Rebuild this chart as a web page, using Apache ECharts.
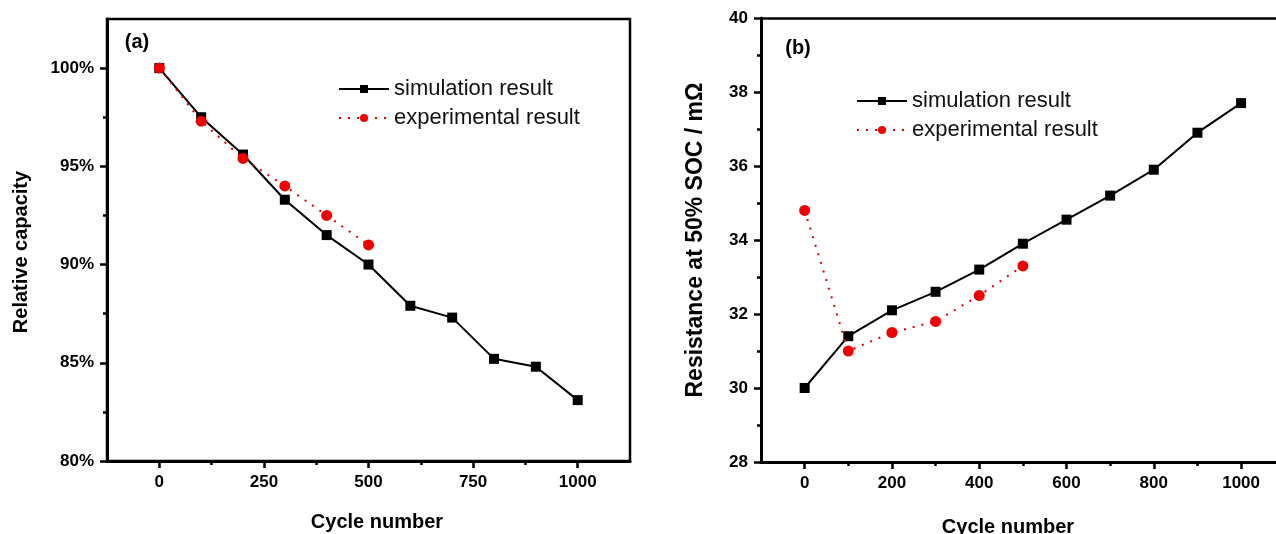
<!DOCTYPE html>
<html>
<head>
<meta charset="utf-8">
<script src="https://cdn.jsdelivr.net/npm/echarts@6/dist/echarts.min.js"></script>
<style>
html,body{margin:0;padding:0;background:#fff;}
#chart{width:1276px;height:534px;}
</style>
</head>
<body>
<div id="chart"></div>
<script>
// ---- data ----
const cycles = [0, 100, 200, 300, 400, 500, 600, 700, 800, 900, 1000];
const expCycles = [0, 100, 200, 300, 400, 500];
const capSim = [100, 97.5, 95.6, 93.3, 91.5, 90.0, 87.9, 87.3, 85.2, 84.8, 83.1];
const capExp = [100, 97.3, 95.4, 94.0, 92.5, 91.0];
const resSim = [30.0, 31.4, 32.1, 32.6, 33.2, 33.9, 34.55, 35.2, 35.9, 36.9, 37.7];
const resExp = [34.8, 31.0, 31.5, 31.8, 32.5, 33.3];

const capXMajor = [0, 250, 500, 750, 1000];
const capXMinor = [125, 375, 625, 875];
const capYMajor = [80, 85, 90, 95, 100];
const capYMinor = [82.5, 87.5, 92.5, 97.5];
const resXMajor = [0, 200, 400, 600, 800, 1000];
const resXMinor = [100, 300, 500, 700, 900];
const resYMajor = [28, 30, 32, 34, 36, 38, 40];
const resYMinor = [29, 31, 33, 35, 37, 39];

const simName = 'simulation result';
const expName = 'experimental result';

// ---- helpers ----
const pairs = (xs, ys) => xs.map((x, i) => [x, ys[i]]);
const FONT = '"Liberation Sans", Arial, sans-serif';

function mainAxis(gridIndex, min, max, major, position, suffix) {
  return {
    type: 'value', gridIndex, min, max, position,
    axisLine: {show: true, onZero: false, lineStyle: {color: '#000', width: 3}},
    axisTick: {show: true, inside: false, length: 7, customValues: major,
               lineStyle: {color: '#000', width: 2.5}},
    axisLabel: {show: true, customValues: major, margin: 13,
                color: '#000', fontSize: 17, fontWeight: 'bold', fontFamily: FONT,
                formatter: v => String(v) + (suffix || '')},
    splitLine: {show: false}
  };
}
function minorAxis(gridIndex, min, max, minor, position) {
  return {
    type: 'value', gridIndex, min, max, position,
    axisLine: {show: false, onZero: false},
    axisTick: {show: true, inside: false, length: 4, customValues: minor,
               lineStyle: {color: '#000', width: 2.5}},
    axisLabel: {show: false},
    splitLine: {show: false}
  };
}
function frameAxis(gridIndex, min, max, position) {
  return {
    type: 'value', gridIndex, min, max, position,
    axisLine: {show: true, onZero: false, lineStyle: {color: '#000', width: 2.5}},
    axisTick: {show: false}, axisLabel: {show: false}, splitLine: {show: false}
  };
}

const simStyle = {
  type: 'line', name: simName, symbol: 'rect', symbolSize: 10,
  itemStyle: {color: '#000'}, lineStyle: {color: '#000', width: 2},
  z: 3
};
const expStyle = {
  type: 'line', name: expName, symbol: 'circle', symbolSize: 11,
  itemStyle: {color: '#f20000'}, lineStyle: {color: '#e00000', width: 2, type: [2, 7]},
  z: 4
};

const legendBase = {
  orient: 'vertical', itemWidth: 50, itemHeight: 10, itemGap: 7, padding: 0,
  selectedMode: false,
  textStyle: {fontSize: 22, fontFamily: FONT, color: '#111'},
  data: [simName, expName]
};

function txt(text, x, y, size, rot) {
  return {
    type: 'text', x, y, rotation: rot || 0, silent: true,
    style: {text, font: 'bold ' + size + 'px ' + FONT, fill: '#000',
            textAlign: 'center', textVerticalAlign: 'middle'}
  };
}

const option = {
  animation: false,
  backgroundColor: '#fff',
  grid: [
    {left: 107, top: 19, width: 523, height: 442, show: true,
     borderColor: '#000', borderWidth: 2.5, backgroundColor: 'transparent'},
    {left: 761, top: 18, right: 0, height: 444, show: false}
  ],
  xAxis: [
    mainAxis(0, -125, 1125, capXMajor, 'bottom'),
    minorAxis(0, -125, 1125, capXMinor, 'bottom'),
    mainAxis(1, -100, 1080, resXMajor, 'bottom'),
    minorAxis(1, -100, 1080, resXMinor, 'bottom'),
    frameAxis(1, -100, 1080, 'top')
  ],
  yAxis: [
    mainAxis(0, 80, 102.5, capYMajor, 'left', '%'),
    minorAxis(0, 80, 102.5, capYMinor, 'left'),
    mainAxis(1, 28, 40, resYMajor, 'left'),
    minorAxis(1, 28, 40, resYMinor, 'left')
  ],
  legend: [
    Object.assign({left: 338, top: 78}, legendBase),
    Object.assign({left: 856, top: 90}, legendBase)
  ],
  series: [
    Object.assign({xAxisIndex: 0, yAxisIndex: 0, data: pairs(cycles, capSim)}, simStyle),
    Object.assign({xAxisIndex: 0, yAxisIndex: 0, data: pairs(expCycles, capExp)}, expStyle),
    Object.assign({xAxisIndex: 2, yAxisIndex: 2, data: pairs(cycles, resSim)}, simStyle),
    Object.assign({xAxisIndex: 2, yAxisIndex: 2, data: pairs(expCycles, resExp)}, expStyle)
  ],
  graphic: [
    txt('Relative capacity', 21, 252, 20, Math.PI / 2),
    txt('Cycle number', 377, 522, 20),
    txt('(a)', 137, 42, 20),
    txt('Resistance at 50% SOC / m\u03A9', 696, 240, 23, Math.PI / 2),
    txt('Cycle number', 1008, 527, 20),
    txt('(b)', 798, 48, 20)
  ]
};

const chart = echarts.init(document.getElementById('chart'), null, {renderer: 'canvas'});
chart.setOption(option);
</script>
</body>
</html>
